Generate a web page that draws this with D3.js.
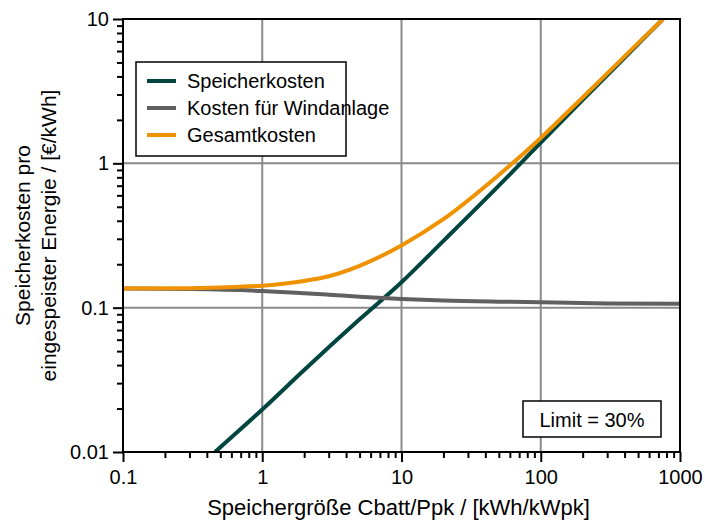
<!DOCTYPE html>
<html lang="de">
  <head>
    <meta charset="utf-8">
    <title>Speicherkosten</title>
    <script type="text/javascript" src="https://d3js.org/d3.v7.min.js"></script>
    <style type="text/css">
      body{
        margin: 0;
        background: #ffffff;
      }
      text{
        font-family: "Liberation Sans", Arial, sans-serif;
        fill: #000;
      }
    </style>
  </head>
  <body>
    <div id="placeHere"></div>
    <script type="text/javascript">
      //width and height
      var w = 705;
      var h = 520;

      // data
      var speicherX = [0.458, 0.5, 1, 2, 5, 10, 20, 50, 100, 200, 500, 755];
      var speicherY = [0.01, 0.0108, 0.0197, 0.037, 0.083, 0.15, 0.29, 0.70, 1.39, 2.75, 6.7, 10];

      var windX = [0.1, 0.3, 1, 2, 3, 5, 10, 20, 50, 100, 300, 1000];
      var windY = [0.1355, 0.1345, 0.1305, 0.126, 0.123, 0.119, 0.115, 0.112, 0.110, 0.109, 0.107, 0.1065];

      var gesamtX = [0.1, 0.3, 0.5, 1, 2, 3, 5, 10, 20, 50, 100, 200, 500, 755];
      var gesamtY = [0.1355, 0.1365, 0.138, 0.142, 0.153, 0.165, 0.195, 0.27, 0.41, 0.83, 1.5, 2.86, 6.8, 10];

      var xTicks = [0.1, 1, 10, 100, 1000];
      var xLabels = ["0.1", "1", "10", "100", "1000"];
      var yTicks = [0.01, 0.1, 1, 10];
      var yLabels = ["0.01", "0.1", "1", "10"];

      var seriesNames = ["Speicherkosten", "Kosten für Windanlage", "Gesamtkosten"];
      var colors = ["#00453f", "#606060", "#ee9200"];

      // plot box (note: "top" is reserved on window, so prefixed names)
      var pLeft = 123, pRight = 680, pTop = 19, pBottom = 452;

      var xScale = d3.scaleLog().domain([0.1, 1000]).range([pLeft, pRight]);
      var yScale = d3.scaleLog().domain([0.01, 10]).range([pBottom, pTop]);

      var svg = d3.select("#placeHere")
                  .append("svg")
                  .attr("width", w)
                  .attr("height", h);

      svg.append("clipPath").attr("id", "plotclip")
         .append("rect")
         .attr("x", pLeft).attr("y", pTop)
         .attr("width", pRight - pLeft).attr("height", pBottom - pTop);

      //grid
      svg.selectAll("line.gx")
         .data(xTicks.slice(1, -1))
         .enter().append("line")
         .attr("class", "gx")
         .attr("x1", function(d){ return xScale(d); })
         .attr("x2", function(d){ return xScale(d); })
         .attr("y1", pTop).attr("y2", pBottom)
         .attr("stroke", "#8a8a8a").attr("stroke-width", 2);

      svg.selectAll("line.gy")
         .data(yTicks.slice(1, -1))
         .enter().append("line")
         .attr("class", "gy")
         .attr("y1", function(d){ return yScale(d); })
         .attr("y2", function(d){ return yScale(d); })
         .attr("x1", pLeft).attr("x2", pRight)
         .attr("stroke", "#8a8a8a").attr("stroke-width", 2);

      //curves
      var line = d3.line()
                   .x(function(d){ return xScale(d[0]); })
                   .y(function(d){ return yScale(d[1]); })
                   .curve(d3.curveMonotoneX);

      var series = [
        d3.zip(speicherX, speicherY),
        d3.zip(windX, windY),
        d3.zip(gesamtX, gesamtY)
      ];

      svg.append("g").attr("clip-path", "url(#plotclip)")
         .selectAll("path")
         .data(series)
         .enter().append("path")
         .attr("d", line)
         .attr("fill", "none")
         .attr("stroke", function(d, i){ return colors[i]; })
         .attr("stroke-width", 4);

      //axes
      var isMajor = function(d){
        return Math.abs(Math.log10(d) - Math.round(Math.log10(d))) < 1e-6;
      };

      var xMinor = xScale.ticks().filter(function(d){ return !isMajor(d); });
      var yMinor = yScale.ticks().filter(function(d){ return !isMajor(d); });

      svg.append("g")
         .attr("transform", "translate(0," + pBottom + ")")
         .call(d3.axisBottom(xScale).tickValues(xMinor).tickFormat("").tickSize(6).tickSizeOuter(0))
         .call(function(g){ g.select(".domain").remove(); });

      svg.append("g")
         .attr("transform", "translate(" + pLeft + ",0)")
         .call(d3.axisLeft(yScale).tickValues(yMinor).tickFormat("").tickSize(6).tickSizeOuter(0))
         .call(function(g){ g.select(".domain").remove(); });

      var gx = svg.append("g")
         .attr("transform", "translate(0," + pBottom + ")")
         .call(d3.axisBottom(xScale).tickValues(xTicks)
                 .tickFormat(function(d, i){ return xLabels[i]; })
                 .tickSize(10).tickPadding(8).tickSizeOuter(0));
      gx.select(".domain").remove();

      var gy = svg.append("g")
         .attr("transform", "translate(" + pLeft + ",0)")
         .call(d3.axisLeft(yScale).tickValues(yTicks)
                 .tickFormat(function(d, i){ return yLabels[i]; })
                 .tickSize(10).tickPadding(4).tickSizeOuter(0));
      gy.select(".domain").remove();

      svg.selectAll(".tick line").attr("stroke", "#000").attr("stroke-width", 2);
      svg.selectAll(".tick text")
         .attr("font-family", "'Liberation Sans', Arial, sans-serif")
         .attr("font-size", "20px")
         .attr("fill", "#000");

      //frame
      svg.append("rect")
         .attr("x", pLeft).attr("y", pTop)
         .attr("width", pRight - pLeft).attr("height", pBottom - pTop)
         .attr("fill", "none")
         .attr("stroke", "#000")
         .attr("stroke-width", 2);

      //axis titles
      svg.append("text")
         .attr("x", (pLeft + pRight) / 2 - 3)
         .attr("y", 515)
         .attr("text-anchor", "middle")
         .attr("font-size", "22px")
         .text("Speichergröße Cbatt/Ppk / [kWh/kWpk]");

      var yTitle = svg.append("text")
         .attr("transform", "translate(0," + (pTop + pBottom) / 2 + ") rotate(-90)")
         .attr("text-anchor", "middle")
         .attr("font-size", "21px");
      yTitle.append("tspan").attr("x", 0).attr("y", 30).text("Speicherkosten pro");
      yTitle.append("tspan").attr("x", 0).attr("y", 56).text("eingespeister Energie / [€/kWh]");

      //legend
      var legend = svg.append("g").attr("transform", "translate(136,62)");
      legend.append("rect")
            .attr("width", 210).attr("height", 94)
            .attr("fill", "#fff")
            .attr("stroke", "#000").attr("stroke-width", 1.5);
      var items = legend.selectAll("g.item")
            .data(seriesNames)
            .enter().append("g")
            .attr("class", "item")
            .attr("transform", function(d, i){ return "translate(0," + (19 + i * 27) + ")"; });
      items.append("line")
           .attr("x1", 11).attr("x2", 40)
           .attr("stroke", function(d, i){ return colors[i]; })
           .attr("stroke-width", 4);
      items.append("text")
           .attr("x", 51).attr("dy", "0.35em")
           .attr("font-size", "20px")
           .text(function(d){ return d; });

      //limit box
      var limit = svg.append("g").attr("transform", "translate(523,401)");
      limit.append("rect")
           .attr("width", 138).attr("height", 36)
           .attr("fill", "#fff")
           .attr("stroke", "#000").attr("stroke-width", 1.5);
      limit.append("text")
           .attr("x", 69).attr("y", 26)
           .attr("text-anchor", "middle")
           .attr("font-size", "20px")
           .text("Limit = 30%");
    </script>
  </body>
</html>
